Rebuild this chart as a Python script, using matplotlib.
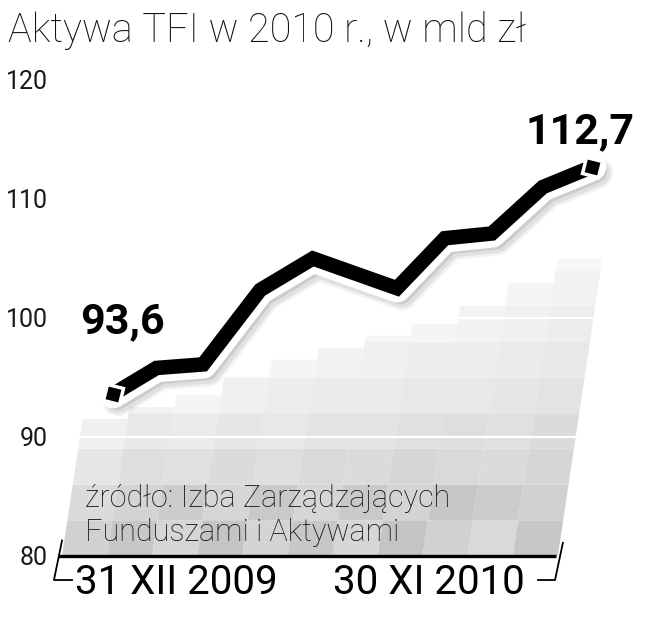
"""Aktywa TFI w 2010 r. - line on a shaded mosaic background."""

import matplotlib

matplotlib.use("Agg")
import matplotlib.pyplot as plt
import matplotlib.transforms as mtransforms
from matplotlib.markers import MarkerStyle
from matplotlib.patches import Polygon

# --- data ---------------------------------------------------------------
months = [0, 1.0, 2.07, 3.38, 4.59, 6.52, 7.62, 8.70, 9.87, 11]
assets = [93.6, 95.8, 96.1, 102.35, 105.0, 102.5, 106.7, 107.1, 111.0, 112.7]
first_label = "93,6"
last_label = "112,7"

y_ticks = [80, 90, 100, 110, 120]
date_labels = ["31 XII 2009", "30 XI 2010"]
title = "Aktywa TFI w 2010 r., w mld zł"
source = "źródło: Izba Zarządzających\nFunduszami i Aktywami"

# decorative mosaic behind the line: column tops and cell shades (bottom -> top)
bg_tops = [91.5, 92.5, 93.5, 95.0, 96.5, 97.5, 98.5, 99.5, 101.0, 103.0, 105.0]
bg_shades = [
    [0.82, 0.86, 0.90, 0.94],
    [0.78, 0.83, 0.87, 0.91, 0.95],
    [0.84, 0.80, 0.88, 0.92, 0.96],
    [0.77, 0.84, 0.86, 0.90, 0.94],
    [0.83, 0.79, 0.87, 0.91, 0.93, 0.96],
    [0.78, 0.84, 0.85, 0.89, 0.92, 0.95],
    [0.84, 0.79, 0.86, 0.89, 0.92, 0.94, 0.97],
    [0.77, 0.83, 0.84, 0.88, 0.91, 0.93, 0.96],
    [0.82, 0.78, 0.85, 0.87, 0.91, 0.93, 0.95],
    [0.85, 0.80, 0.86, 0.88, 0.90, 0.92, 0.94, 0.96],
    [0.78, 0.82, 0.84, 0.86, 0.89, 0.91, 0.93, 0.95, 0.97],
]
BG_LEFT, BG_WIDTH, ROW_H = -1.17, 1.035, 3.0

LIGHT = ["Roboto", "DejaVu Sans"]

fig = plt.figure(figsize=(6.48, 6.40), dpi=100)
ax = fig.add_axes([52 / 648, 0, 596 / 648, 1])
ax.set_xlim(-1.40, 12.285)
ax.set_ylim(72.94, 126.72)
for side in ax.spines.values():
    side.set_visible(False)
ax.set_xticks([])
ax.set_yticks(y_ticks)
ax.set_yticklabels([str(v) for v in y_ticks], family=LIGHT, fontweight="normal",
                   fontsize=18, color="#1a1a1a")
ax.tick_params(axis="y", length=0, pad=3)

# shear so the mosaic columns lean to the right
shear = 0.041
skew = mtransforms.Affine2D.from_values(1, 0, shear, 1, -shear * 80, 0) + ax.transData

for i, (top, shades) in enumerate(zip(bg_tops, bg_shades)):
    x0 = BG_LEFT + i * BG_WIDTH
    for j, g in enumerate(shades):
        y0 = 80 + j * ROW_H
        y1 = min(y0 + ROW_H, top)
        cell = Polygon([(x0, y0), (x0 + BG_WIDTH, y0), (x0 + BG_WIDTH, y1), (x0, y1)],
                       closed=True, facecolor=(g, g, g), edgecolor="none",
                       transform=skew, zorder=1)
        ax.add_patch(cell)
bg_right = BG_LEFT + len(bg_tops) * BG_WIDTH
for gy in (90, 100):
    ax.plot([BG_LEFT, bg_right], [gy, gy], color="white", lw=1.6, transform=skew, zorder=2)

# baseline and the slanted brackets around the date labels
ax.plot([-1.26, 10.17], [80, 80], color="black", lw=2.4, solid_capstyle="butt", zorder=3)
ax.plot([-1.17, -1.355, -0.94], [81.3, 77.98, 77.98], color="black", lw=1.3, clip_on=False, zorder=3)
ax.plot([10.33, 10.15, 9.76], [81.1, 77.98, 77.98], color="black", lw=1.3, clip_on=False, zorder=3)
ax.text(-0.87, 77.8, date_labels[0], family=LIGHT, fontsize=29, ha="left", va="center", zorder=4)
ax.text(9.46, 77.8, date_labels[1], family=LIGHT, fontsize=29, ha="right", va="center", zorder=4)

ax.text(-0.64, 83.4, source, family=LIGHT, fontweight="light", fontsize=22, color="#111111",
        ha="left", va="center", linespacing=1.2, zorder=4)

# soft shadow, white halo and the black line
for dx, dy, lw, a in [(5, -6, 32, 0.05), (5, -6, 27, 0.07), (4, -5, 22, 0.09)]:
    off = mtransforms.offset_copy(ax.transData, fig=fig, x=dx, y=dy, units="dots")
    ax.plot(months, assets, color="black", lw=lw * 0.72, alpha=a, transform=off,
            solid_joinstyle="round", solid_capstyle="round", zorder=5)
ax.plot(months, assets, color="white", lw=20.5, solid_joinstyle="round",
        solid_capstyle="round", zorder=6)
ax.plot(months, assets, color="black", lw=10.5, solid_joinstyle="miter",
        solid_capstyle="butt", zorder=7)
square = MarkerStyle("s", transform=mtransforms.Affine2D().rotate_deg(-12))
ax.plot([months[0], months[-1]], [assets[0], assets[-1]], linestyle="none", marker=square,
        markersize=12, markerfacecolor="black", markeredgecolor="white",
        markeredgewidth=2.5, zorder=8)

ax.annotate(first_label, (months[0], assets[0]), xytext=(7, 52), textcoords="offset points",
            family=LIGHT, fontweight="bold", fontsize=31, ha="center", va="center", zorder=9)
ax.annotate(last_label, (months[-1], assets[-1]), xytext=(-9, 25), textcoords="offset points",
            family=LIGHT, fontweight="bold", fontsize=31, ha="center", va="center", zorder=9)

fig.text(8 / 648, 1 - 30 / 640, title, family=LIGHT, fontweight="light", fontsize=28.5,
         color="#111111", ha="left", va="center")

fig.savefig("out.png", dpi=100)
